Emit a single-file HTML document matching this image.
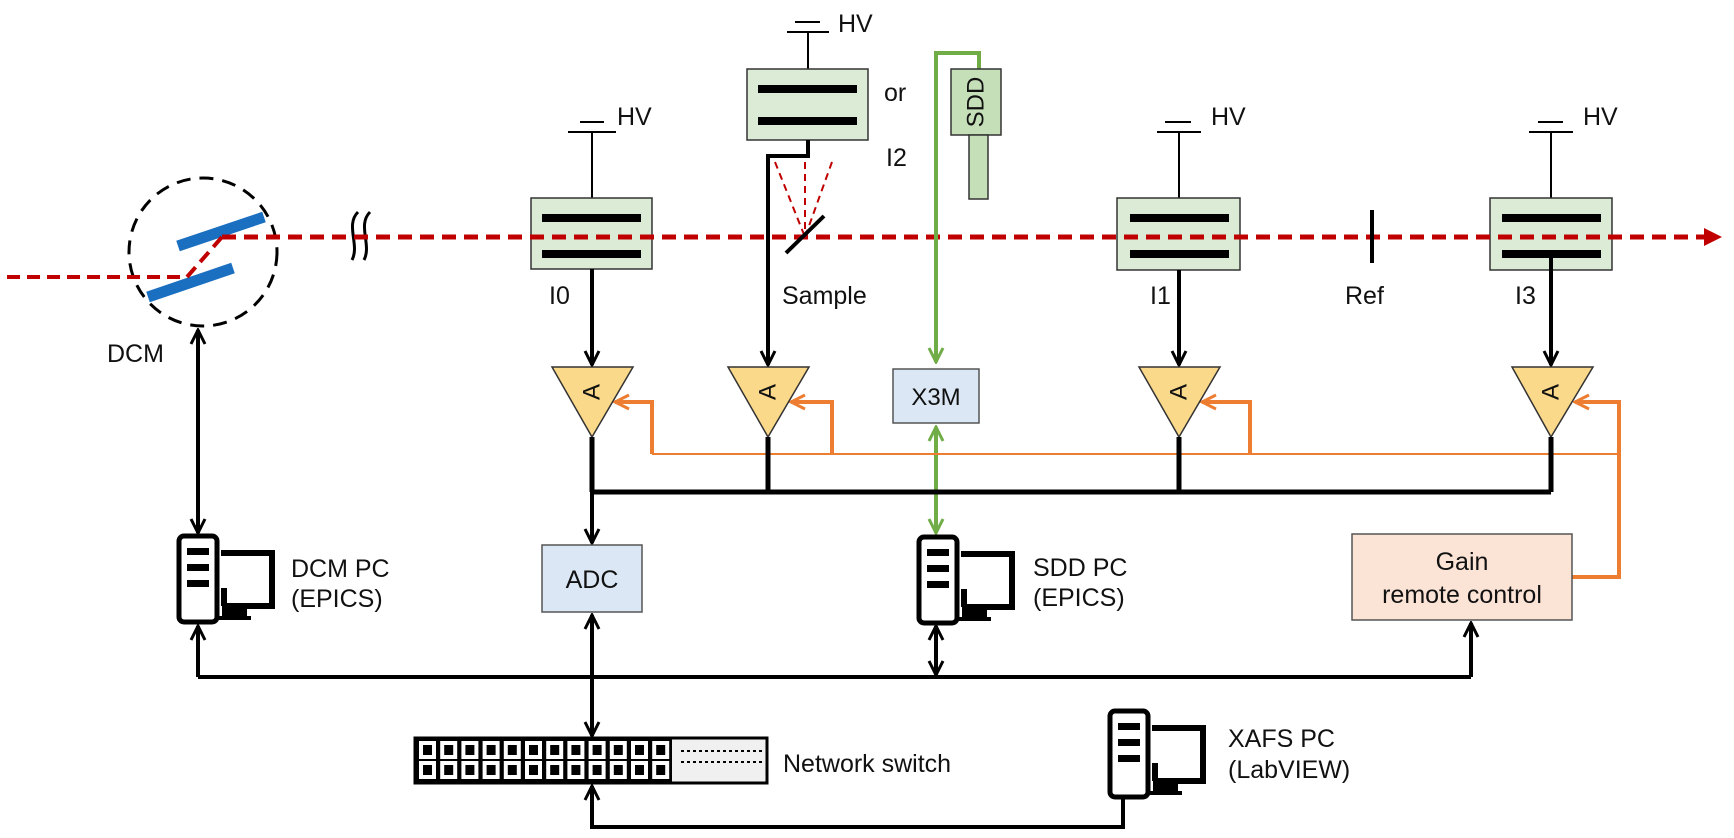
<!DOCTYPE html>
<html><head><meta charset="utf-8"><style>
html,body{margin:0;padding:0;background:#fff;}
svg{display:block;}
text{font-family:"Liberation Sans",Arial,sans-serif;fill:#111;}
</style></head><body>
<svg width="1734" height="838" viewBox="0 0 1734 838" xmlns="http://www.w3.org/2000/svg">
<defs>
<marker id="abk" markerWidth="18" markerHeight="18" refX="16" refY="9" orient="auto-start-reverse" markerUnits="userSpaceOnUse" viewBox="0 0 18 18">
<path d="M2,2 L16,9 L2,16" fill="none" stroke="#000" stroke-width="3"/></marker>
<marker id="ag" markerWidth="18" markerHeight="18" refX="16" refY="9" orient="auto-start-reverse" markerUnits="userSpaceOnUse" viewBox="0 0 18 18">
<path d="M2,2 L16,9 L2,16" fill="none" stroke="#70ad47" stroke-width="3"/></marker>
<marker id="ao" markerWidth="18" markerHeight="18" refX="16" refY="9" orient="auto" markerUnits="userSpaceOnUse" viewBox="0 0 18 18">
<path d="M2,2 L16,9 L2,16" fill="none" stroke="#ed7d31" stroke-width="3"/></marker>
<g id="pc">
<rect x="2" y="2" width="38" height="86" rx="5" fill="#fff" stroke="#000" stroke-width="5"/>
<rect x="10" y="14" width="22" height="7" fill="#000"/>
<rect x="10" y="30" width="22" height="7" fill="#000"/>
<rect x="10" y="46" width="22" height="7" fill="#000"/>
<path d="M44,19 H95 V72 H50" fill="none" stroke="#000" stroke-width="6"/>
<path d="M47,54 V72" stroke="#000" stroke-width="6"/>
<rect x="45" y="72" width="25" height="10" fill="#000"/>
<rect x="42" y="82" width="32" height="4" fill="#000"/>
</g>
</defs>

<!-- DCM -->
<circle cx="203" cy="252" r="74" fill="none" stroke="#000" stroke-width="3" stroke-dasharray="14 9"/>
<path d="M178,246 L264,217" stroke="#1a6fc0" stroke-width="11"/>
<path d="M148,297 L233,268" stroke="#1a6fc0" stroke-width="11"/>
<path d="M358,212 C345,225 360,245 352,260" fill="none" stroke="#000" stroke-width="3"/>
<path d="M370,212 C357,225 372,245 364,260" fill="none" stroke="#000" stroke-width="3"/>
<text x="107" y="362" font-size="25">DCM</text>

<!-- HV + chambers -->
<g stroke="#000" stroke-width="2">
<path d="M580,122 H604 M568,132 H616 M592,132 V198"/>
<path d="M795,22 H820 M787,32 H829 M808,32 V69"/>
<path d="M1165,122 H1191 M1157,132 H1201 M1179,132 V198"/>
<path d="M1538,122 H1563 M1529,132 H1573 M1551,132 V198"/>
</g>
<g font-size="25">
<text x="617" y="125">HV</text>
<text x="838" y="32">HV</text>
<text x="1211" y="125">HV</text>
<text x="1583" y="125">HV</text>
</g>
<g fill="#dcebd5" stroke="#333" stroke-width="1.5">
<rect x="531" y="198" width="121" height="71"/>
<rect x="747" y="69" width="121" height="71"/>
<rect x="1117" y="198" width="123" height="72"/>
<rect x="1490" y="198" width="122" height="72"/>
</g>
<g fill="#000">
<rect x="542" y="214" width="99" height="8"/><rect x="542" y="250" width="99" height="8"/>
<rect x="758" y="85" width="99" height="8"/><rect x="758" y="117" width="99" height="8"/>
<rect x="1130" y="214" width="99" height="8"/><rect x="1130" y="250" width="99" height="8"/>
<rect x="1502" y="214" width="99" height="8"/><rect x="1502" y="250" width="99" height="8"/>
</g>

<!-- beam (over boxes) -->
<path d="M7,277 H187 L222,237" fill="none" stroke="#c00000" stroke-width="4" stroke-dasharray="13 7"/>
<path d="M222,237 H1708" fill="none" stroke="#c00000" stroke-width="5" stroke-dasharray="14 8"/>
<path d="M1704,228 L1722,237 L1704,246 Z" fill="#c00000"/>

<g font-size="25">
<text x="884" y="101">or</text>
<text x="886" y="166">I2</text>
<text x="549" y="304">I0</text>
<text x="1150" y="304">I1</text>
<text x="1345" y="304">Ref</text>
<text x="1515" y="304">I3</text>
<text x="782" y="304">Sample</text>
</g>
<path d="M1372,210 V263" stroke="#000" stroke-width="4"/>
<path d="M775,162 L805,237 M805,162 V237 M832,162 L805,237" stroke="#c00000" stroke-width="2" stroke-dasharray="7 5" fill="none"/>
<path d="M786,253 L824,216" stroke="#000" stroke-width="4"/>

<!-- SDD -->
<path d="M936,362 V53 H979 V69" fill="none" stroke="#70ad47" stroke-width="4" marker-start="url(#ag)"/>
<rect x="951" y="69" width="50" height="66" fill="#c5dfb8" stroke="#333" stroke-width="1.5"/>
<rect x="969" y="135" width="19" height="64" fill="#c5dfb8" stroke="#333" stroke-width="1.5"/>
<text x="976" y="102" font-size="24" text-anchor="middle" dominant-baseline="central" transform="rotate(-90 976 102)">SDD</text>
<rect x="893" y="369" width="86" height="54" fill="#dbe7f4" stroke="#555" stroke-width="1.5"/>
<text x="936" y="405" font-size="24" text-anchor="middle">X3M</text>
<path d="M936,427 V533" stroke="#70ad47" stroke-width="4" marker-start="url(#ag)" marker-end="url(#ag)"/>

<g stroke="#000" stroke-width="4" fill="none" marker-end="url(#abk)">
<path d="M592,269 V365"/>
<path d="M808,140 V156 H768 V365"/>
<path d="M1179,270 V365"/>
<path d="M1551,254 V365"/>
</g>

<!-- orange -->
<path d="M652,454 H1619" stroke="#ed7d31" stroke-width="2" fill="none"/>
<g stroke="#ed7d31" stroke-width="4" fill="none" marker-end="url(#ao)">
<path d="M652,454 V402 H615"/>
<path d="M832,454 V402 H791"/>
<path d="M1250,454 V402 H1202"/>
<path d="M1572,577 H1619 V402 H1575"/>
</g>

<g fill="#fbd98a" stroke="#333" stroke-width="1.5">
<path d="M552,367 H633 L592,437 Z"/>
<path d="M728,367 H809 L768,437 Z"/>
<path d="M1139,367 H1220 L1179,437 Z"/>
<path d="M1512,367 H1593 L1551,437 Z"/>
</g>
<g font-size="24">
<text x="0" y="0" text-anchor="middle" dominant-baseline="central" transform="translate(592,392) rotate(-90)">A</text>
<text x="0" y="0" text-anchor="middle" dominant-baseline="central" transform="translate(768,392) rotate(-90)">A</text>
<text x="0" y="0" text-anchor="middle" dominant-baseline="central" transform="translate(1179,392) rotate(-90)">A</text>
<text x="0" y="0" text-anchor="middle" dominant-baseline="central" transform="translate(1551,392) rotate(-90)">A</text>
</g>

<path d="M592,437 V492 M768,437 V492 M1179,437 V492 M1551,437 V492 M592,492 H1551" stroke="#000" stroke-width="5" fill="none"/>
<path d="M592,492 V543" stroke="#000" stroke-width="4" marker-end="url(#abk)"/>
<rect x="542" y="545" width="100" height="67" fill="#dbe7f4" stroke="#555" stroke-width="1.5"/>
<text x="592" y="588" font-size="25" text-anchor="middle">ADC</text>

<path d="M198,330 V533" stroke="#000" stroke-width="4" marker-start="url(#abk)" marker-end="url(#abk)"/>

<use href="#pc" x="177" y="534"/>
<text x="291" y="577" font-size="25">DCM PC</text>
<text x="291" y="607" font-size="25">(EPICS)</text>
<use href="#pc" x="917" y="535"/>
<text x="1033" y="576" font-size="25">SDD PC</text>
<text x="1033" y="606" font-size="25">(EPICS)</text>
<use href="#pc" x="1108" y="709"/>
<text x="1228" y="747" font-size="25">XAFS PC</text>
<text x="1228" y="778" font-size="25">(LabVIEW)</text>

<rect x="1352" y="534" width="220" height="86" fill="#fbe3d6" stroke="#555" stroke-width="1.5"/>
<text x="1462" y="570" font-size="25" text-anchor="middle">Gain</text>
<text x="1462" y="603" font-size="25" text-anchor="middle">remote control</text>

<path d="M198,677 H1471" stroke="#000" stroke-width="4"/>
<path d="M198,677 V626" stroke="#000" stroke-width="4" marker-end="url(#abk)"/>
<path d="M1471,677 V623" stroke="#000" stroke-width="4" marker-end="url(#abk)"/>
<path d="M936,675 V626" stroke="#000" stroke-width="4" marker-start="url(#abk)" marker-end="url(#abk)"/>
<path d="M592,615 V736" stroke="#000" stroke-width="4" marker-start="url(#abk)" marker-end="url(#abk)"/>
<path d="M1123,797 V827 H592 V786" stroke="#000" stroke-width="4" fill="none" marker-end="url(#abk)"/>

<rect x="415" y="738" width="352" height="45" fill="#f0f0f0" stroke="#000" stroke-width="3"/>
<rect x="415" y="738" width="257" height="45" fill="#000"/>
<g fill="none" stroke="#000" stroke-width="2" stroke-dasharray="3 3">
<path d="M681,751 H763 M681,762 H763"/>
</g>
<text x="783" y="772" font-size="25">Network switch</text>
<script>
var ns="http://www.w3.org/2000/svg",svg=document.querySelector('svg');
for(var r=0;r<2;r++)for(var c=0;c<12;c++){
var x=419+c*21.2,y=741+r*20;
var a=document.createElementNS(ns,'rect');a.setAttribute('x',x);a.setAttribute('y',y);a.setAttribute('width',17);a.setAttribute('height',18);a.setAttribute('fill','#fff');svg.appendChild(a);
var b=document.createElementNS(ns,'rect');b.setAttribute('x',x+4);b.setAttribute('y',y+4);b.setAttribute('width',9);b.setAttribute('height',10);b.setAttribute('fill','#000');svg.appendChild(b);}
</script>
</svg>
</body></html>
